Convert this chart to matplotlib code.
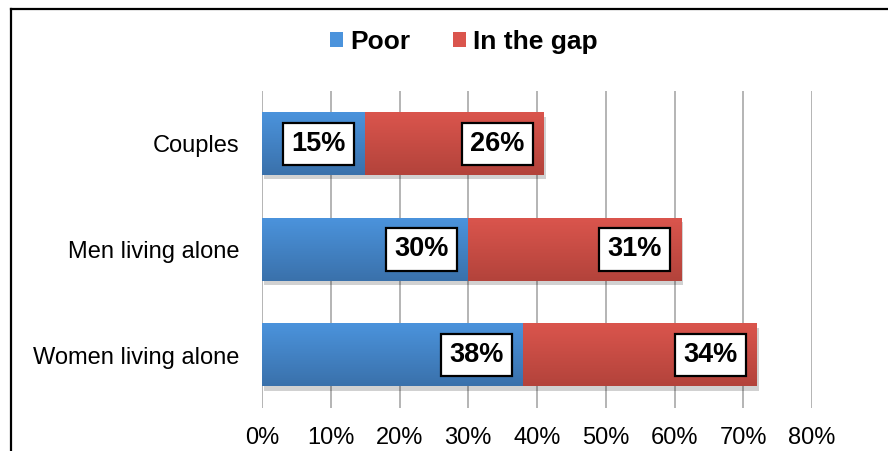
import numpy as np
import matplotlib
matplotlib.use('Agg')
import matplotlib.pyplot as plt
from matplotlib.lines import Line2D
from matplotlib.patches import Patch
import matplotlib.patheffects as pe

plt.rcParams['font.family'] = ['Liberation Sans', 'DejaVu Sans']

# data
categories = ['Couples', 'Men living alone', 'Women living alone']
poor = [15, 30, 38]
in_gap = [26, 31, 34]
series_names = ['Poor', 'In the gap']
xticks = [0, 10, 20, 30, 40, 50, 60, 70, 80]

# colours: (top, bottom) of the vertical gradient
blue = ('#4b93dc', '#3a71ab')
red = ('#da554d', '#b3433b')

W, H = 888, 451
fig = plt.figure(figsize=(W / 100, H / 100), dpi=100)
ax = fig.add_axes([262 / W, 1 - 408 / H, 550 / W, 317 / H])

ypos = np.arange(len(categories))[::-1]
bar_h = 0.59


def grad_img(c_top, c_bot, n=64):
    t = np.linspace(0, 1, n)[:, None]
    a = np.array(matplotlib.colors.to_rgb(c_top))
    b = np.array(matplotlib.colors.to_rgb(c_bot))
    return (a * (1 - t) + b * t)[:, None, :]


shadow = [pe.SimplePatchShadow(offset=(1.5, -3), shadow_rgbFace='#000000', alpha=0.18), pe.Normal()]

for vals, lefts, cols in [(poor, [0] * 3, blue), (in_gap, poor, red)]:
    bars = ax.barh(ypos, vals, left=lefts, height=bar_h, color=cols[1],
                   zorder=3, path_effects=shadow)
    img = grad_img(*cols)
    for b in bars:
        x0, y0 = b.get_x(), b.get_y()
        ax.imshow(img, extent=(x0, x0 + b.get_width(), y0, y0 + b.get_height()),
                  origin='upper', aspect='auto', zorder=4, interpolation='bilinear')
        ax.annotate('%d%%' % b.get_width(), (x0 + b.get_width(), y0 + b.get_height() / 2),
                    xytext=(-14, 0), textcoords='offset points', ha='right', va='center',
                    fontsize=19.5, fontweight='bold', zorder=6,
                    bbox=dict(boxstyle='square,pad=0.3', fc='white', ec='black', lw=1.6))

ax.set_xlim(0, 80)
ax.set_ylim(-0.5, len(categories) - 0.5)
ax.set_xticks(xticks)
ax.set_xticklabels(['%d%%' % v for v in xticks])
ax.set_yticks(ypos)
ax.set_yticklabels(categories)
ax.tick_params(axis='both', length=0, labelsize=17)
ax.tick_params(axis='x', pad=14)
ax.tick_params(axis='y', pad=16)
ax.grid(axis='x', color='#a8a8a8', lw=1.2, zorder=0)
ax.set_axisbelow(True)
for s in ax.spines.values():
    s.set_visible(False)

handles = [Patch(facecolor=blue[0], edgecolor='none'), Patch(facecolor=red[0], edgecolor='none')]
fig.legend(handles, series_names, loc='center', bbox_to_anchor=(464 / W, 1 - 42 / H),
           ncol=2, frameon=False, prop={'weight': 'bold', 'size': 19},
           handlelength=0.5, handleheight=0.5, handletextpad=0.27, columnspacing=1.6)

# outer chart frame (cropped on right and bottom)
fig.add_artist(Line2D([11 / W, 11 / W], [0, 1 - 9 / H], color='black', lw=1.6))
fig.add_artist(Line2D([11 / W, 1], [1 - 9 / H, 1 - 9 / H], color='black', lw=1.6))

fig.savefig('out.png', dpi=100)
